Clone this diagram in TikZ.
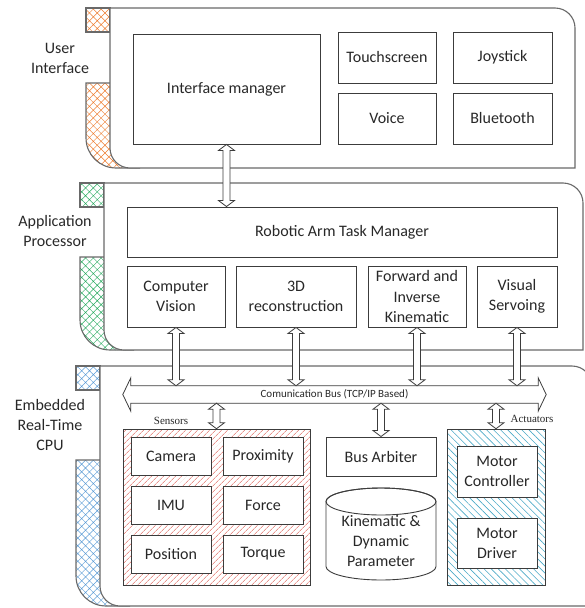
\documentclass[tikz,border=0pt]{standalone}
\usepackage{fontspec}
\setmainfont{Carlito}
\newfontfamily\labelserif{Liberation Serif}
\usetikzlibrary{calc,patterns.meta}

\definecolor{uiorange}{RGB}{237,125,49}
\definecolor{apgreen}{RGB}{40,170,95}
\definecolor{cpublue}{RGB}{91,155,213}
\definecolor{senshatch}{RGB}{222,90,80}
\definecolor{acthatch}{RGB}{75,170,200}
\definecolor{frame}{RGB}{105,105,105}
\definecolor{boxline}{RGB}{60,60,60}
\definecolor{ink}{RGB}{40,40,40}

\tikzset{
  layerline/.style={draw=frame, line width=1.1pt},
  unit/.style={draw=boxline, fill=white, line width=0.9pt, text=ink, align=center,
    inner sep=0pt, font=\fontsize{16}{20}\selectfont},
  layername/.style={text=ink, align=center, font=\fontsize{16}{20}\selectfont},
  hollow/.style={draw=boxline, fill=white, line width=0.8pt},
  tag/.style={text=ink, font=\labelserif\fontsize{11}{12}\selectfont},
  crossfill/.style={pattern={Hatch[angle=45,distance=5.5pt,line width=0.45pt]}, pattern color=#1},
}

% layer: outer x, inner x, top, tab bottom, strip top, bottom, right, colour
\newcommand{\layer}[8]{%
  \draw[layerline, crossfill=#8] (#1,#3) rectangle (#2,#4);
  \draw[layerline, crossfill=#8] (#2+30,#5) -- (#1,#5) -- (#1,#6-30)
    arc[start angle=180, end angle=90, radius=30] -- (#2+30,#6);
  \draw[layerline, fill=white] (#2,#3) -- (#7-20,#3)
    arc[start angle=270, end angle=360, radius=20] -- (#7,#6) -- (#2+20,#6)
    arc[start angle=90, end angle=180, radius=20] -- cycle;
}

% hollow double arrow, upper end #1, lower end #2
\newcommand{\vbiarrow}[2]{%
  \draw[hollow] let \p1=(#1), \p2=(#2) in
    (\x1,\y1) -- (\x1+8pt,\y1-6pt) -- (\x1+3.5pt,\y1-6pt) -- (\x1+3.5pt,\y2+6pt)
    -- (\x1+8pt,\y2+6pt) -- (\x1,\y2) -- (\x1-8pt,\y2+6pt) -- (\x1-3.5pt,\y2+6pt)
    -- (\x1-3.5pt,\y1-6pt) -- (\x1-8pt,\y1-6pt) -- cycle;
}

\begin{document}
\begin{tikzpicture}[x=1pt,y=-1pt]
  \useasboundingbox (0,0) rectangle (585,608);
  \clip (0,0) rectangle (585,608);

  % the three layers
  \layer{86}{110}{8}{32}{83}{168}{575}{uiorange}
  \layer{80}{104}{183}{207}{257}{350}{583}{apgreen}
  \layer{76}{100}{366}{390}{460}{606}{592}{cpublue}
  \node[layername] (uiname) at (60,58) {User\\Interface};
  \node[layername] (apname) at (55,231.5) {Application\\Processor};
  \node[layername] (cpuname) at (50,424.5) {Embedded\\Real-Time\\CPU};

  % user interface
  \node[unit, minimum width=187, minimum height=110] (im) at (226.5,89) {Interface manager};
  \node[unit, minimum width=98, minimum height=51] (touch) at (387,57.5) {Touchscreen};
  \node[unit, minimum width=99, minimum height=51] (joy) at (502.5,57.5) {Joystick};
  \node[unit, minimum width=98, minimum height=51] (voice) at (387,118.5) {Voice};
  \node[unit, minimum width=99, minimum height=51] (bt) at (502.5,118.5) {Bluetooth};

  % application processor
  \node[unit, minimum width=430, minimum height=50] (ratm) at (342,232) {Robotic Arm Task Manager};
  \node[unit, minimum width=98, minimum height=61] (cv) at (176,296.5) {Computer\\Vision};
  \node[unit, minimum width=120, minimum height=61] (recon) at (296,296.5) {3D\\reconstruction};
  \node[unit, minimum width=98, minimum height=61] (fik) at (417,296.5) {Forward and\\Inverse\\Kinematic};
  \node[unit, minimum width=80, minimum height=61] (vs) at (517,296.5) {Visual\\Servoing};

  % embedded cpu
  \node[draw=boxline, line width=0.9pt, inner sep=0pt, minimum width=187, minimum height=156,
    pattern={Lines[angle=45,distance=4pt,line width=0.6pt]}, pattern color=senshatch] (sensors) at (216.5,507) {};
  \node[unit, minimum width=80, minimum height=38] (camera) at (171,456) {Camera};
  \node[unit, minimum width=80, minimum height=38] (prox) at (263,456) {Proximity};
  \node[unit, minimum width=80, minimum height=38] (imu) at (171,505) {IMU};
  \node[unit, minimum width=80, minimum height=38] (force) at (263,505) {Force};
  \node[unit, minimum width=80, minimum height=38] (pos) at (171,554) {Position};
  \node[unit, minimum width=80, minimum height=38] (torque) at (263,554) {Torque};
  \node[tag] (senstag) at (171,421) {Sensors};

  \node[unit, minimum width=110, minimum height=39] (arbiter) at (381,456.5) {Bus Arbiter};
  \draw[draw=boxline, fill=white, line width=0.9pt] (326,501.5) -- (326,566.5)
    arc[start angle=180, end angle=0, x radius=55, y radius=13.5] -- (436,501.5)
    arc[start angle=0, end angle=-180, x radius=55, y radius=13.5] -- cycle;
  \draw[draw=boxline, line width=0.9pt] (381,501.5) ellipse[x radius=55, y radius=13.5];
  \node[layername] (kdp) at (381,541) {Kinematic \&\\Dynamic\\Parameter};

  \node[draw=boxline, line width=0.9pt, inner sep=0pt, minimum width=98, minimum height=156,
    pattern={Lines[angle=-45,distance=5pt,line width=0.6pt]}, pattern color=acthatch] (actuators) at (496,507) {};
  \node[unit, minimum width=80, minimum height=51] (mctrl) at (497,471.5) {Motor\\Controller};
  \node[unit, minimum width=80, minimum height=50] (mdrv) at (497,543) {Motor\\Driver};
  \node[tag] (acttag) at (532,419) {Actuators};

  % communication bus
  \node[inner sep=0pt, minimum width=407, minimum height=17] (bus) at (334.5,394.5) {};
  \draw[hollow] (bus.north west) -- (bus.north east) -- ($(bus.north east)+(0,-8)$)
    -- ($(bus.east)+(8,0)$) -- ($(bus.south east)+(0,8)$) -- (bus.south east)
    -- (bus.south west) -- ($(bus.south west)+(0,8)$) -- ($(bus.west)+(-8,0)$)
    -- ($(bus.north west)+(0,-8)$) -- cycle;
  \node[text=ink, font=\fontsize{11}{12}\selectfont] (bustext) at (bus) {Comunication Bus (TCP/IP Based)};

  % links
  \vbiarrow{im.south}{ratm.north}
  \vbiarrow{cv.south}{cv.south |- bus.north}
  \vbiarrow{recon.south}{recon.south |- bus.north}
  \vbiarrow{fik.south}{fik.south |- bus.north}
  \vbiarrow{vs.south}{vs.south |- bus.north}
  \vbiarrow{sensors.north |- bus.south}{sensors.north}
  \vbiarrow{arbiter.north |- bus.south}{arbiter.north}
  \vbiarrow{actuators.north |- bus.south}{actuators.north}
\end{tikzpicture}
\end{document}
